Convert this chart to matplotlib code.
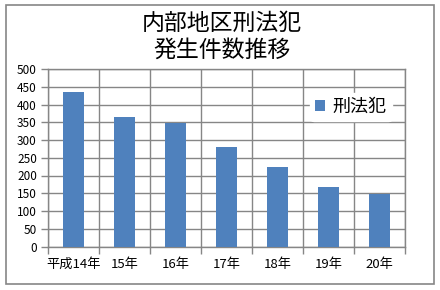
import matplotlib
matplotlib.use("Agg")
import matplotlib.pyplot as plt
from matplotlib.patches import Rectangle

plt.rcParams['font.family'] = ['Noto Sans CJK JP', 'DejaVu Sans']

categories = ["平成14年", "15年", "16年", "17年", "18年", "19年", "20年"]
values = [435, 366, 347, 281, 225, 167, 148]
series_name = "刑法犯"
title = "内部地区刑法犯\n発生件数推移"
yticks = list(range(0, 501, 50))

bar_color = "#4F81BD"
grid_color = "#868686"

fig = plt.figure(figsize=(4.4, 2.9), dpi=100)
fig.patch.set_facecolor("white")
fig.add_artist(Rectangle((5.5 / 440, 1 - 284 / 290), (434 - 5.5) / 440, (284 - 5) / 290,
                         transform=fig.transFigure, fill=False, edgecolor=grid_color, linewidth=1.2))

ax = fig.add_axes([48 / 440, (290 - 246.5) / 290, (405 - 48) / 440, (246.5 - 69) / 290])
x = list(range(len(categories)))
ax.bar(x, values, width=0.4, color=bar_color, label=series_name, zorder=3)

ax.set_xlim(-0.5, len(categories) - 0.5)
ax.set_ylim(0, 500)
ax.set_yticks(yticks)
ax.set_yticklabels([str(v) for v in yticks], fontsize=8.5)
ax.set_xticks(x)
ax.set_xticklabels(categories, fontsize=9.5)
ax.set_xticks([i - 0.5 for i in range(len(categories) + 1)], minor=True)
ax.tick_params(axis='x', which='major', length=0, pad=8)
ax.tick_params(axis='x', which='minor', length=5, color=grid_color, width=1)
ax.tick_params(axis='y', length=5, color=grid_color, width=1, pad=3)
ax.grid(axis='y', which='major', color=grid_color, linewidth=1, zorder=1)
ax.grid(axis='x', which='minor', color=grid_color, linewidth=1, zorder=1)
ax.set_axisbelow(True)
for s in ax.spines.values():
    s.set_color(grid_color)
    s.set_linewidth(1)

leg = ax.legend(loc='center left', bbox_to_anchor=((310 - 48) / (405 - 48), (246.5 - 107) / (246.5 - 69)),
                frameon=True, fontsize=13, handlelength=0.55, handleheight=0.55, handletextpad=0.4,
                borderpad=0.3, borderaxespad=0)
leg.get_frame().set_facecolor("white")
leg.get_frame().set_edgecolor("white")
leg.get_frame().set_alpha(1)

fig.text(222 / 440, 1 - 37 / 290, title, ha='center', va='center', fontsize=16.5, linespacing=1.2)

fig.savefig("out.png", dpi=100)
